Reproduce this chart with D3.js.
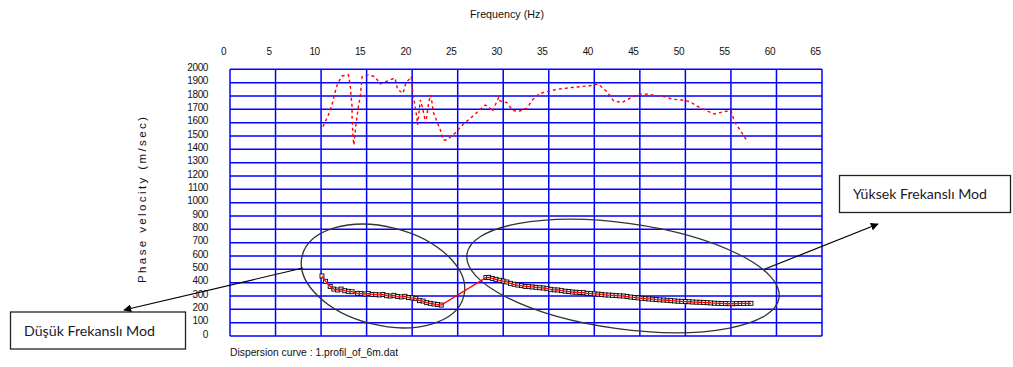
<!DOCTYPE html>
<html>
<head>
<meta charset="utf-8">
<script src="https://cdn.jsdelivr.net/npm/d3@7"></script>
<style>
  body { margin: 0; background: #fff; }
  svg { display: block; }
  .tick text { font-family: "Liberation Sans", Arial, sans-serif; font-size: 10px; fill: #111; letter-spacing: -0.4px; }
</style>
</head>
<body>
<div id="chart"></div>
<script>
// frequency ticks (Hz) and velocity ticks (m/sec)
const freqTicks = d3.range(0, 70, 5)
const velTicks = d3.range(0, 2100, 100)

// upper (noisy) picked curve: [freq, velocity]
const upperCurve = [
  [10.2, 1570], [10.8, 1658], [11.2, 1732], [11.5, 1820], [11.8, 1890], [12.3, 1950],
  [13.0, 1958], [13.2, 1883], [13.3, 1795], [13.4, 1720], [13.4, 1645], [13.5, 1495],
  [13.6, 1432], [13.8, 1570], [14.1, 1720], [14.3, 1795], [14.4, 1870], [14.5, 1945],
  [15.2, 1958], [15.9, 1945], [16.5, 1890], [17.4, 1915], [18.1, 1935], [18.4, 1850],
  [19.0, 1820], [19.3, 1895], [19.9, 1945], [20.0, 1870], [20.1, 1808], [20.3, 1732],
  [20.5, 1645], [20.6, 1583], [20.9, 1770], [21.1, 1720], [21.3, 1658], [21.5, 1595],
  [21.8, 1745], [22.0, 1808], [22.2, 1745], [22.3, 1682], [22.7, 1612], [23.1, 1545],
  [23.4, 1470], [23.8, 1470], [24.7, 1520], [25.6, 1588], [26.6, 1645], [27.4, 1695],
  [28.0, 1732], [28.4, 1720], [28.8, 1682], [29.5, 1790], [29.6, 1765], [30.4, 1750],
  [31.0, 1695], [31.6, 1682], [32.6, 1708], [33.2, 1770], [34.0, 1820], [34.8, 1832],
  [35.9, 1850], [37.7, 1865], [39.5, 1877], [40.4, 1890], [41.4, 1832], [42.1, 1765],
  [43.0, 1750], [44.1, 1790], [45.0, 1815], [45.9, 1813], [47.6, 1795], [48.7, 1775],
  [49.6, 1770], [50.5, 1757], [51.4, 1720], [52.3, 1690], [53.2, 1665], [54.2, 1682],
  [55.0, 1690], [55.4, 1607], [56.0, 1545], [56.7, 1470]
]

// low-frequency mode (fundamental), with markers
const lowMode = [
  [10.1, 450], [10.5, 410], [11.0, 372], [11.4, 352], [11.8, 345], [12.2, 352],
  [12.6, 340], [13.0, 335], [13.4, 332], [14.0, 320], [14.4, 318], [14.8, 315],
  [15.2, 318], [15.6, 312], [16.0, 310], [16.4, 308], [16.8, 312], [17.2, 302],
  [17.6, 300], [18.0, 305], [18.4, 296], [18.8, 293], [19.2, 298], [19.6, 288],
  [20.0, 286], [20.4, 280], [20.8, 265], [21.2, 262], [21.6, 250], [22.0, 245],
  [22.4, 240], [22.8, 236], [23.2, 232]
]

// high-frequency mode, with markers
const highMode = [
  [28.1, 438], [28.4, 440], [28.8, 432], [29.2, 425], [29.6, 418], [30.0, 412],
  [30.4, 405], [30.8, 395], [31.2, 388], [31.6, 382], [32.0, 378], [32.4, 372],
  [32.8, 370], [33.2, 368], [33.6, 365], [34.0, 362], [34.4, 360], [34.8, 355],
  [35.2, 350], [35.6, 346], [36.0, 345], [36.4, 340], [36.8, 336], [37.2, 333],
  [37.6, 330], [38.0, 328], [38.4, 326], [38.8, 325], [39.2, 320], [39.6, 318],
  [40.0, 316], [40.4, 314], [40.8, 312], [41.2, 308], [41.6, 307], [42.0, 305],
  [42.4, 303], [42.8, 301], [43.2, 300], [43.6, 296], [44.0, 292], [44.4, 289],
  [44.8, 286], [45.2, 283], [45.6, 280], [46.0, 278], [46.4, 276], [46.8, 273],
  [47.2, 271], [47.6, 270], [48.0, 268], [48.4, 265], [48.8, 263], [49.2, 261],
  [49.6, 260], [50.0, 258], [50.4, 257], [50.8, 255], [51.2, 254], [51.6, 253],
  [52.0, 252], [52.4, 250], [52.8, 248], [53.2, 246], [53.6, 245], [54.0, 244],
  [54.4, 243], [54.8, 242], [55.2, 242], [55.6, 243], [56.0, 244], [56.4, 244],
  [56.8, 245], [57.2, 245]
]

const width = 1013
const height = 367

const svg = d3.select('#chart').append('svg')
  .attr('width', width)
  .attr('height', height)

const x = d3.scaleLinear().domain([0, 65]).range([230, 822])
const y = d3.scaleLinear().domain([0, 2000]).range([336, 69.3])

// grid
const grid = svg.append('g')
  .attr('stroke', '#0000ff')
  .attr('stroke-width', 1.5)

grid.selectAll('line.v')
  .data(freqTicks)
  .join('line')
  .attr('class', 'v')
  .attr('x1', d => x(d)).attr('x2', d => x(d))
  .attr('y1', y(2000)).attr('y2', y(0))

grid.selectAll('line.h')
  .data(velTicks)
  .join('line')
  .attr('class', 'h')
  .attr('x1', x(0)).attr('x2', x(65))
  .attr('y1', d => y(d)).attr('y2', d => y(d))

// axes (labels only)
const topAxis = svg.append('g')
  .attr('transform', 'translate(-7,55)')
  .call(d3.axisTop(x).tickValues(freqTicks).tickFormat(d3.format('d')).tickSize(0).tickPadding(0))
topAxis.select('.domain').remove()

const leftAxis = svg.append('g')
  .attr('transform', 'translate(208,-2)')
  .call(d3.axisLeft(y).tickValues(velTicks).tickFormat(d3.format('d')).tickSize(0).tickPadding(0))
leftAxis.select('.domain').remove()

const small = '"Liberation Sans", Arial, sans-serif'

svg.append('text')
  .attr('x', 507).attr('y', 18)
  .attr('text-anchor', 'middle')
  .attr('font-family', small).attr('font-size', 10.5)
  .attr('fill', '#111')
  .attr('textLength', 74).attr('lengthAdjust', 'spacingAndGlyphs')
  .text('Frequency (Hz)')

svg.append('text')
  .attr('transform', 'translate(146,200) rotate(-90)')
  .attr('text-anchor', 'middle')
  .attr('font-family', small).attr('font-size', 11.5)
  .attr('fill', '#111')
  .attr('textLength', 166).attr('lengthAdjust', 'spacing')
  .text('Phase velocity (m/sec)')

svg.append('text')
  .attr('x', 230).attr('y', 356)
  .attr('font-family', small).attr('font-size', 10)
  .attr('fill', '#111')
  .attr('textLength', 168).attr('lengthAdjust', 'spacingAndGlyphs')
  .text('Dispersion curve : 1.profil_of_6m.dat')

// ellipses around the two modes
const ellipses = [
  { cx: 383, cy: 276, rx: 83.3, ry: 49.2, rot: 14 },
  { cx: 623, cy: 276, rx: 157.6, ry: 52.9, rot: 7.9 },
]
svg.selectAll('ellipse')
  .data(ellipses)
  .join('ellipse')
  .attr('cx', d => d.cx).attr('cy', d => d.cy)
  .attr('rx', d => d.rx).attr('ry', d => d.ry)
  .attr('transform', d => `rotate(${d.rot},${d.cx},${d.cy})`)
  .attr('fill', 'none')
  .attr('stroke', '#333')
  .attr('stroke-width', 1.3)

// curves
const line = d3.line().x(d => x(d[0])).y(d => y(d[1]))

svg.append('path')
  .datum(upperCurve)
  .attr('d', line)
  .attr('fill', 'none')
  .attr('stroke', '#ff0000')
  .attr('stroke-width', 1.4)
  .attr('stroke-dasharray', '3,3')

const markers = lowMode.concat(highMode)
svg.append('g')
  .selectAll('rect')
  .data(markers)
  .join('rect')
  .attr('x', d => x(d[0]) - 2)
  .attr('y', d => y(d[1]) - 2)
  .attr('width', 4).attr('height', 4)
  .attr('fill', '#fff')
  .attr('stroke', '#000')
  .attr('stroke-width', 0.9)

svg.append('path')
  .datum(markers)
  .attr('d', line)
  .attr('fill', 'none')
  .attr('stroke', '#ff0000')
  .attr('stroke-width', 1.3)

// annotation boxes with arrows
const defs = svg.append('defs')
defs.append('marker')
  .attr('id', 'arrow')
  .attr('viewBox', '0 0 10 10')
  .attr('refX', 9).attr('refY', 5)
  .attr('markerWidth', 8).attr('markerHeight', 8)
  .attr('markerUnits', 'userSpaceOnUse')
  .attr('orient', 'auto')
  .append('path')
  .attr('d', 'M0,0 L10,5 L0,10 Z')
  .attr('fill', '#000')

const arrows = [
  { x1: 303, y1: 268, x2: 124, y2: 310 },
  { x1: 765, y1: 269, x2: 878, y2: 224 },
]
svg.selectAll('line.arrow')
  .data(arrows)
  .join('line')
  .attr('class', 'arrow')
  .attr('x1', d => d.x1).attr('y1', d => d.y1)
  .attr('x2', d => d.x2).attr('y2', d => d.y2)
  .attr('stroke', '#000')
  .attr('stroke-width', 1.2)
  .attr('marker-end', 'url(#arrow)')

const boxes = [
  { x: 10.5, y: 312, w: 175, h: 37, label: 'Düşük Frekanslı Mod', tx: 24, ty: 336, tl: 131 },
  { x: 839.5, y: 175.5, w: 171, h: 37, label: 'Yüksek Frekanslı Mod', tx: 853, ty: 199, tl: 134 },
]
const box = svg.selectAll('g.box')
  .data(boxes)
  .join('g')
  .attr('class', 'box')

box.append('rect')
  .attr('x', d => d.x).attr('y', d => d.y)
  .attr('width', d => d.w).attr('height', d => d.h)
  .attr('fill', '#fff')
  .attr('stroke', '#222')
  .attr('stroke-width', 1.3)

box.append('text')
  .attr('x', d => d.tx).attr('y', d => d.ty)
  .attr('font-family', 'Lato, "Open Sans", sans-serif')
  .attr('font-size', 14)
  .attr('fill', '#1a1a2a')
  .attr('textLength', d => d.tl).attr('lengthAdjust', 'spacingAndGlyphs')
  .text(d => d.label)
</script>
</body>
</html>
